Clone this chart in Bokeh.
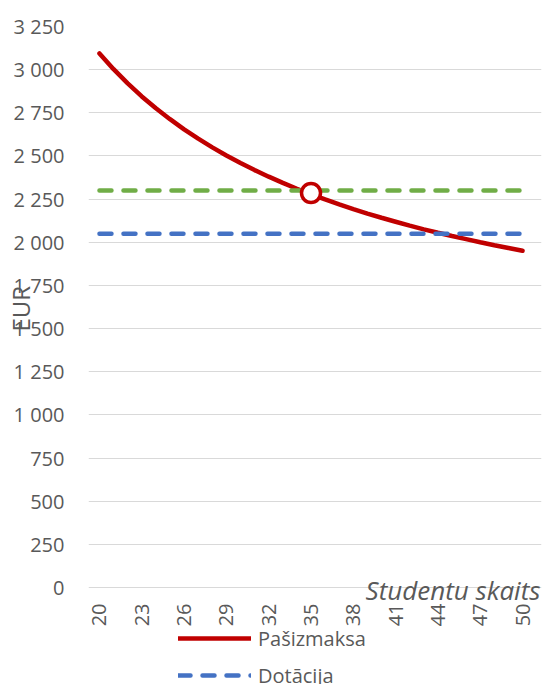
import math
from bokeh.plotting import figure
from bokeh.models import (FixedTicker, Label, Legend, LegendItem, Range1d)
from bokeh.embed import file_html
from bokeh.resources import INLINE

# ---- data ----
students = list(range(20, 51))
cost_per_student = [3094, 3003, 2921, 2845, 2776, 2713, 2654, 2600, 2550, 2503,
                    2459, 2418, 2380, 2344, 2310, 2278, 2248, 2219, 2192, 2166,
                    2142, 2119, 2096, 2075, 2055, 2036, 2018, 2000, 1983, 1967,
                    1951]
subsidy = [2050] * len(students)
threshold = [2300] * len(students)
marker_x = [35]
marker_y = [2285]

x_ticks = [20, 23, 26, 29, 32, 35, 38, 41, 44, 47, 50]
y_ticks = [0, 250, 500, 750, 1000, 1250, 1500, 1750, 2000, 2250, 2500, 2750, 3000, 3250]
y_tick_labels = ["0", "250", "500", "750", "1 000", "1 250", "1 500", "1 750",
                 "2 000", "2 250", "2 500", "2 750", "3 000", "3 250"]

FONT = "Open Sans"
GREY = "#595959"

p = figure(width=543, height=684, output_backend="svg", toolbar_location=None,
           x_range=Range1d(19.222, 51.344), y_range=Range1d(-562, 3250),
           min_border_left=87, min_border_right=2, min_border_top=26,
           min_border_bottom=0)
p.outline_line_color = None
p.background_fill_color = "white"
p.border_fill_color = "white"

# grid
p.xgrid.grid_line_color = None
p.ygrid.grid_line_color = "#d9d9d9"
p.ygrid.grid_line_width = 1

# axes
p.yaxis.ticker = FixedTicker(ticks=y_ticks)
p.yaxis.major_label_overrides = {t: l for t, l in zip(y_ticks, y_tick_labels)}
p.yaxis.bounds = (0, 3250)
p.xaxis.ticker = FixedTicker(ticks=x_ticks)
p.xaxis.major_label_overrides = {t: str(t) for t in x_ticks}
p.xaxis.fixed_location = 0
for ax in (p.xaxis[0], p.yaxis[0]):
    ax.axis_line_color = None
    ax.major_tick_line_color = None
    ax.minor_tick_line_color = None
    ax.major_tick_in = 0
    ax.major_tick_out = 0
    ax.major_label_text_font = FONT
    ax.major_label_text_font_size = "20px"
    ax.major_label_text_color = GREY
p.yaxis.major_label_standoff = 24
p.xaxis.major_label_orientation = math.pi / 2
p.xaxis.major_label_standoff = 16

# leading non-breaking spaces lift the visible title up to the middle of 0..3250
p.yaxis.axis_label = "\u00a0" * 15 + "EUR"
p.yaxis.axis_label_standoff = -26
p.yaxis.axis_label_text_font = FONT
p.yaxis.axis_label_text_font_size = "24px"
p.yaxis.axis_label_text_font_style = "normal"
p.yaxis.axis_label_text_color = GREY

# series
r_cost = p.line(students, cost_per_student, line_color="#C00000", line_width=4.5,
                line_cap="round")
r_sub = p.line(students, subsidy, line_color="#4472C4", line_width=4.5,
               line_dash="12 12", line_cap="round")
r_thr = p.line(students, threshold, line_color="#70AD47", line_width=4.5,
               line_dash="12 12", line_cap="round")
p.scatter(marker_x, marker_y, marker="circle", size=19, fill_color="white",
          line_color="#C00000", line_width=3.5)

# x axis title
p.add_layout(Label(x=51.27, y=-17, text="Studentu skaits", text_align="right",
                   text_baseline="alphabetic", text_font=FONT,
                   text_font_style="italic", text_font_size="26px",
                   text_color=GREY))

# legend
legend = Legend(items=[LegendItem(label="Pašizmaksa", renderers=[r_cost]),
                       LegendItem(label="Dotācija", renderers=[r_sub])],
                location=(90, -5), orientation="vertical",
                glyph_width=73, glyph_height=28, label_height=28,
                label_standoff=7, spacing=9, padding=0, margin=0,
                border_line_color=None, background_fill_alpha=0,
                label_text_font=FONT, label_text_font_size="20px",
                label_text_color=GREY)
p.add_layout(legend, "center")

open("out.html", "w").write(file_html(p, INLINE))
